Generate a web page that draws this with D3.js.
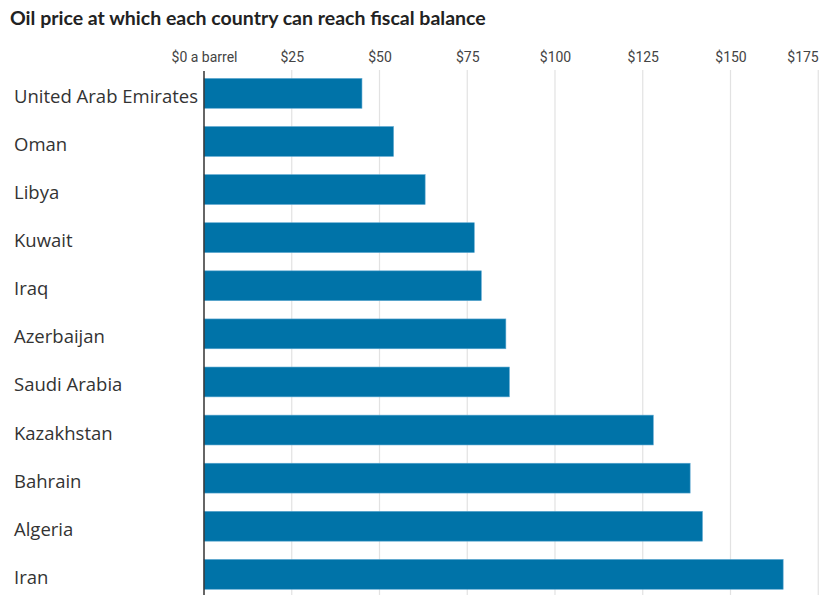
<!DOCTYPE html>
<html>
<head>
<meta charset="utf-8">
<script src="https://cdn.jsdelivr.net/npm/d3@7"></script>
<style>
  html, body { margin: 0; padding: 0; background: #fff; }
  svg { display: block; }
</style>
</head>
<body>
<svg id="chart" width="830" height="595"></svg>
<script>
const title = "Oil price at which each country can reach fiscal balance";
const countries = ["United Arab Emirates", "Oman", "Libya", "Kuwait", "Iraq", "Azerbaijan",
  "Saudi Arabia", "Kazakhstan", "Bahrain", "Algeria", "Iran"];
const breakevenPrice = [45, 54, 63, 77, 79, 86, 87, 128, 138.5, 142, 165];
const tickValues = [0, 25, 50, 75, 100, 125, 150, 175];
const tickLabels = ["$0 a barrel", "$25", "$50", "$75", "$100", "$125", "$150", "$175"];

const svg = d3.select("#chart");
const W = 830, H = 595;
const x0 = 204, pxPer25 = 87.75;

const x = d3.scaleLinear().domain([0, 175]).range([x0, x0 + 7 * pxPer25]);
const y = d3.scaleBand().domain(countries).range([69.3, 69.3 + 11 * 48.1])
  .paddingInner(0.38).paddingOuter(0.19);

svg.append("text")
  .attr("x", 10).attr("y", 25)
  .attr("font-family", "Lato, 'Open Sans', sans-serif")
  .attr("font-weight", 700)
  .attr("font-size", 19.5)
  .attr("fill", "#222")
  .text(title);

// gridlines
svg.append("g").selectAll("line").data(tickValues.slice(1)).join("line")
  .attr("x1", d => x(d)).attr("x2", d => x(d))
  .attr("y1", 70).attr("y2", H)
  .attr("stroke", "#e2e2e2").attr("stroke-width", 1.2);

// tick labels via axis
const axis = d3.axisTop(x).tickValues(tickValues)
  .tickFormat((d, i) => tickLabels[i]).tickSize(0).tickPadding(0);
const gAxis = svg.append("g").attr("transform", "translate(0,62)").call(axis);
gAxis.select(".domain").remove();
gAxis.selectAll("text")
  .attr("font-family", "Roboto, sans-serif")
  .attr("font-size", 14)
  .attr("fill", "#444")
  .attr("dy", 0)
  .attr("text-anchor", (d, i) => i === tickValues.length - 1 ? "end" : "middle");

// bars
svg.append("g").selectAll("rect").data(countries).join("rect")
  .attr("x", x(0))
  .attr("y", d => y(d))
  .attr("width", (d, i) => x(breakevenPrice[i]) - x(0))
  .attr("height", y.bandwidth())
  .attr("fill", "#0073a8")
  .attr("stroke", "#5aa6d0").attr("stroke-width", 0.6);

// zero line
svg.append("line")
  .attr("x1", x(0)).attr("x2", x(0))
  .attr("y1", 71).attr("y2", H)
  .attr("stroke", "#333").attr("stroke-width", 1.5);

// country labels
svg.append("g").selectAll("text").data(countries).join("text")
  .attr("x", 14)
  .attr("y", d => y(d) + y.bandwidth() / 2 + 3)
  .attr("dy", "0.35em")
  .attr("font-family", "'Open Sans', sans-serif")
  .attr("font-size", 18.5)
  .attr("fill", "#333")
  .text(d => d);
</script>
</body>
</html>
